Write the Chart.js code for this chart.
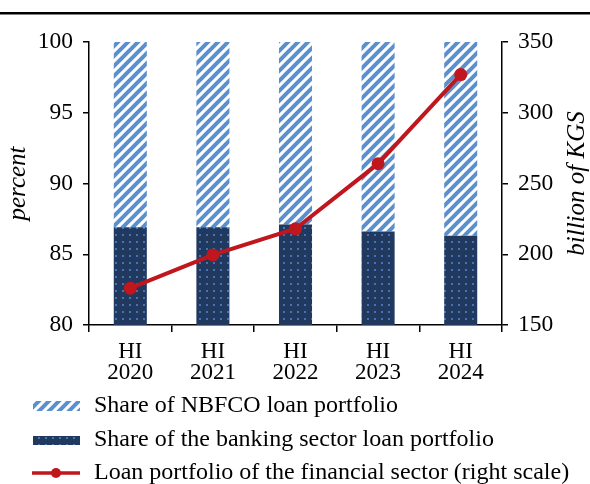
<!DOCTYPE html>
<html>
<head>
<meta charset="utf-8">
<script src="https://cdn.jsdelivr.net/npm/chart.js@4.4.1/dist/chart.umd.min.js"></script>
<style>
  html, body { margin: 0; padding: 0; background: #fff; }
  #wrap { width: 590px; height: 484px; position: relative; }
</style>
</head>
<body>
<div id="wrap"><canvas id="chart" width="590" height="484"></canvas></div>
<script>
// half-year labels
const categories = [['HI', '2020'], ['HI', '2021'], ['HI', '2022'], ['HI', '2023'], ['HI', '2024']];
// shares of the loan portfolio, percent
const bankShare = [86.9, 86.9, 87.1, 86.6, 86.3];
const nbfcoShare = [13.1, 13.1, 12.9, 13.4, 13.7];
// loan portfolio of the financial sector, billion KGS
const loanPortfolio = [176, 199.5, 218, 264, 327];

const labelNbfco = 'Share of NBFCO loan portfolio';
const labelBank = 'Share of the banking sector loan portfolio';
const labelLoans = 'Loan portfolio of the financial sector (right scale)';

const FONT = "'Liberation Serif', 'Times New Roman', serif";
const HATCH = '#5a8fd0';
const NAVY = '#21395f';
const DOT = '#4673b2';
const RED = '#c0161e';

// diagonal "///" stripes on white
function hatchPattern(ctx) {
  const c = document.createElement('canvas');
  c.width = 10; c.height = 10;
  const g = c.getContext('2d');
  g.fillStyle = '#fff';
  g.fillRect(0, 0, 10, 10);
  g.strokeStyle = HATCH;
  g.lineWidth = 4;
  g.beginPath();
  g.moveTo(-5, 5); g.lineTo(5, -5);
  g.moveTo(0, 10); g.lineTo(10, 0);
  g.moveTo(5, 15); g.lineTo(15, 5);
  g.stroke();
  return ctx.createPattern(c, 'repeat');
}

// navy with small lighter dots
function dotPattern(ctx) {
  const c = document.createElement('canvas');
  c.width = 7; c.height = 7;
  const g = c.getContext('2d');
  g.fillStyle = NAVY;
  g.fillRect(0, 0, 7, 7);
  g.fillStyle = DOT;
  g.fillRect(3, 3, 2, 2);
  return ctx.createPattern(c, 'repeat');
}

const ctx = document.getElementById('chart').getContext('2d');
const hatch = hatchPattern(ctx);
const dots = dotPattern(ctx);

// frame line, axis titles and the legend
const decor = {
  id: 'decor',
  beforeDraw(chart) {
    const c = chart.ctx;
    c.save();
    c.fillStyle = '#fff';
    c.fillRect(0, 0, chart.width, chart.height);
    c.fillStyle = '#000';
    c.fillRect(0, 12, chart.width, 2.5);
    c.restore();
  },
  afterDraw(chart) {
    const c = chart.ctx;
    const area = chart.chartArea;
    const midY = (area.top + area.bottom) / 2;
    c.save();
    c.fillStyle = '#000';
    c.font = 'italic 25px ' + FONT;
    c.textAlign = 'center';
    c.textBaseline = 'middle';

    c.save();
    c.translate(18, midY);
    c.rotate(-Math.PI / 2);
    c.fillText('percent', 0, 0);
    c.restore();

    c.save();
    c.translate(577, midY);
    c.rotate(-Math.PI / 2);
    c.fillText('billion of KGS', 0, 0);
    c.restore();

    // legend
    c.font = '24px ' + FONT;
    c.textAlign = 'left';
    const rows = [406, 440, 473];
    c.fillStyle = hatch;
    c.fillRect(33, rows[0] - 5, 47, 10);
    c.fillStyle = dots;
    c.fillRect(33, rows[1] - 4, 47, 9);
    c.strokeStyle = RED;
    c.lineWidth = 3.5;
    c.beginPath();
    c.moveTo(32, rows[2]);
    c.lineTo(80, rows[2]);
    c.stroke();
    c.fillStyle = RED;
    c.beginPath();
    c.arc(56, rows[2], 5, 0, Math.PI * 2);
    c.fill();

    c.fillStyle = '#000';
    c.fillText(labelNbfco, 94, rows[0]);
    c.fillText(labelBank, 94, rows[1]);
    c.fillText(labelLoans, 94, rows[2]);
    c.restore();
  }
};

const tickFont = { family: FONT, size: 23.5 };

new Chart(ctx, {
  type: 'bar',
  data: {
    labels: categories,
    datasets: [
      {
        label: labelBank,
        data: bankShare,
        backgroundColor: dots,
        stack: 'share',
        yAxisID: 'y',
        order: 1
      },
      {
        label: labelNbfco,
        data: nbfcoShare,
        backgroundColor: hatch,
        stack: 'share',
        yAxisID: 'y',
        order: 1
      },
      {
        type: 'line',
        label: labelLoans,
        data: loanPortfolio,
        borderColor: RED,
        backgroundColor: RED,
        borderWidth: 4,
        pointRadius: 6.5,
        pointBackgroundColor: RED,
        pointBorderWidth: 0,
        yAxisID: 'y1',
        order: 0
      }
    ]
  },
  options: {
    responsive: false,
    animation: false,
    events: [],
    layout: { padding: { top: 42, bottom: 90, left: 0, right: 0 } },
    plugins: {
      legend: { display: false },
      tooltip: { enabled: false }
    },
    datasets: {
      bar: { categoryPercentage: 1, barPercentage: 0.4 }
    },
    scales: {
      x: {
        stacked: true,
        grid: { drawOnChartArea: false, offset: true, tickLength: 7, color: '#000', lineWidth: 1.5 },
        border: { color: '#000', width: 1.5 },
        ticks: { color: '#000', font: { family: FONT, size: 23, lineHeight: 0.9 }, padding: 10, maxRotation: 0 },
        afterFit(s) { s.height = 69; }
      },
      y: {
        position: 'left',
        stacked: true,
        min: 80,
        max: 100,
        grid: { drawOnChartArea: false, tickLength: 6, color: '#000', lineWidth: 1.5 },
        border: { color: '#000', width: 1.5 },
        ticks: { stepSize: 5, color: '#000', font: tickFont, padding: 10 },
        afterFit(s) { s.width = 89; }
      },
      y1: {
        position: 'right',
        min: 150,
        max: 350,
        grid: { drawOnChartArea: false, tickLength: 6, color: '#000', lineWidth: 1.5 },
        border: { color: '#000', width: 1.5 },
        ticks: { stepSize: 50, color: '#000', font: tickFont, padding: 10 },
        afterFit(s) { s.width = 88; }
      }
    }
  },
  plugins: [decor]
});
</script>
</body>
</html>
